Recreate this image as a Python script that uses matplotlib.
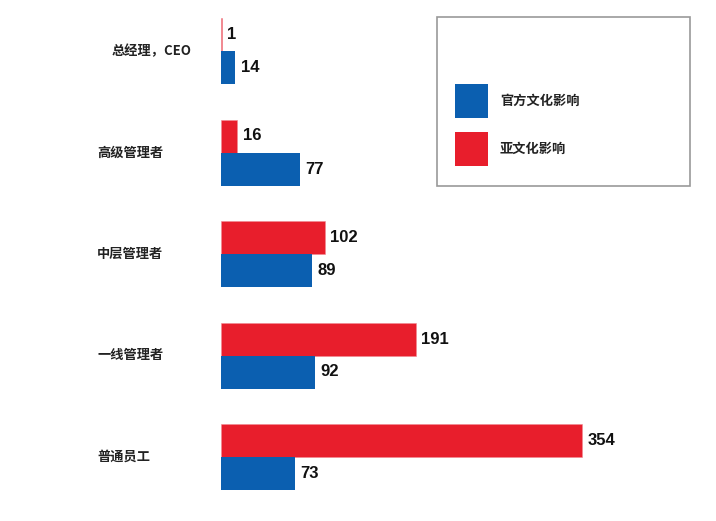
import matplotlib
matplotlib.use("Agg")
import matplotlib.pyplot as plt
from matplotlib.patches import Rectangle
from matplotlib.transforms import blended_transform_factory
import numpy as np

plt.rcParams['font.family'] = ['Noto Sans CJK SC', 'DejaVu Sans']

categories = ["总经理，CEO", "高级管理者", "中层管理者", "一线管理者", "普通员工"]
sub_culture = [1, 16, 102, 191, 354]      # 亚文化影响 (red)
official_culture = [14, 77, 89, 92, 73]   # 官方文化影响 (blue)
series_names = ["官方文化影响", "亚文化影响"]
blue = "#0B5FB0"
red = "#E81E2C"

W, H = 716, 521
fig = plt.figure(figsize=(W / 100, H / 100), dpi=100)
fig.patch.set_facecolor("white")

def px(x, y):
    return x / W, 1 - y / H

# axes: value 0 at x=221px, ~1.02 px per unit
left_px = 221
scale = 1.02
ax = fig.add_axes([left_px / W, 0, (W - left_px) / W, 1])
ax.set_xlim(0, (W - left_px) / scale)
pitch = 101.5
top0 = 51
ax.set_ylim(4 + (H - top0 - 4 * pitch) / pitch, -top0 / pitch)
ax.axis("off")

y = np.arange(len(categories))
h = 33 / pitch
ax.barh(y - h / 2, sub_culture, height=h, color=red, edgecolor="#F08A92", linewidth=0.4)
ax.barh(y + h / 2, official_culture, height=h, color=blue)

val_kw = dict(textcoords="offset points", ha="left", va="center", fontsize=12,
              fontweight="bold", family=["Liberation Sans", "DejaVu Sans"], color="#111111")
for yi, v in zip(y, sub_culture):
    ax.annotate(str(v), (v, yi - h / 2), xytext=(3.8, 0), **val_kw)
for yi, v in zip(y, official_culture):
    ax.annotate(str(v), (v, yi + h / 2), xytext=(3.8, 0), **val_kw)

# category labels
trans = blended_transform_factory(fig.transFigure, ax.transData)
label_x = [112, 97, 97, 97, 97]
for i, (c, lx) in enumerate(zip(categories, label_x)):
    ax.text(lx / W, i, c, transform=trans, ha="left", va="center",
            fontsize=9.5, fontweight="bold", color="#222222")

# legend box
x0, y0, x1, y1 = 437, 17, 690, 186
bx, by = px(x0, y1)
fig.add_artist(Rectangle((bx, by), (x1 - x0) / W, (y1 - y0) / H, transform=fig.transFigure,
                         fill=False, edgecolor="#999999", linewidth=1.2))
for name, col, cy in [(series_names[0], blue, 101), (series_names[1], red, 149)]:
    rx, ry = px(455, cy + 17)
    fig.add_artist(Rectangle((rx, ry), 33 / W, 34 / H, transform=fig.transFigure,
                             facecolor=col, edgecolor="none"))
    tx, ty = px(500, cy)
    fig.text(tx, ty, name, ha="left", va="center", fontsize=9.5, fontweight="bold",
             color="#222222")

fig.savefig("out.png", dpi=100, facecolor="white")
